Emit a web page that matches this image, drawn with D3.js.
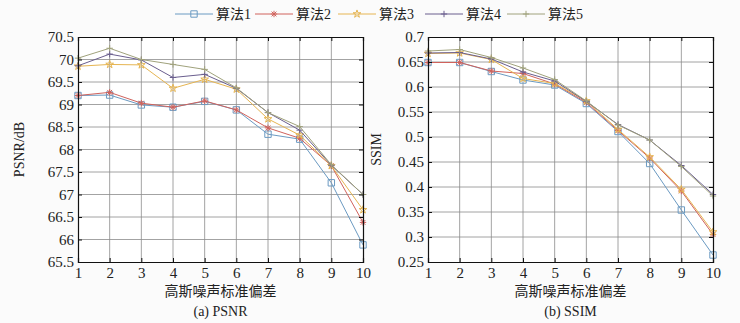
<!DOCTYPE html>
<html>
<head>
<meta charset="utf-8">
<script src="https://cdn.jsdelivr.net/npm/d3@7"></script>
<style>
  body { margin: 0; background: #fbfbfb; }
  svg text { font-family: "Liberation Serif", "Noto Sans CJK SC", serif; fill: #222; }
</style>
</head>
<body>
<div id="chart"></div>
<script>
// data
var noise = [1, 2, 3, 4, 5, 6, 7, 8, 9, 10];
var names = ["算法1", "算法2", "算法3", "算法4", "算法5"];

var psnr1 = [69.2, 69.21, 68.99, 68.94, 69.07, 68.88, 68.34, 68.23, 67.26, 65.88];
var psnr2 = [69.2, 69.27, 69.03, 68.94, 69.08, 68.88, 68.48, 68.25, 67.64, 66.38];
var psnr3 = [69.85, 69.89, 69.88, 69.36, 69.56, 69.34, 68.68, 68.32, 67.64, 66.66];
var psnr4 = [69.86, 70.12, 69.99, 69.6, 69.67, 69.36, 68.82, 68.43, 67.65, 67.0];
var psnr5 = [70.03, 70.25, 70.0, 69.89, 69.78, 69.37, 68.82, 68.51, 67.66, 67.0];

var ssim1 = [0.649, 0.649, 0.631, 0.614, 0.604, 0.567, 0.511, 0.447, 0.354, 0.264];
var ssim2 = [0.649, 0.649, 0.632, 0.627, 0.606, 0.569, 0.513, 0.458, 0.392, 0.305];
var ssim3 = [0.667, 0.668, 0.655, 0.617, 0.607, 0.572, 0.515, 0.46, 0.395, 0.31];
var ssim4 = [0.668, 0.669, 0.656, 0.63, 0.612, 0.571, 0.525, 0.494, 0.443, 0.385];
var ssim5 = [0.672, 0.675, 0.659, 0.638, 0.615, 0.572, 0.524, 0.494, 0.441, 0.382];

var psnrTicks = [65.5, 66, 66.5, 67, 67.5, 68, 68.5, 69, 69.5, 70, 70.5];
var ssimTicks = [0.25, 0.3, 0.35, 0.4, 0.45, 0.5, 0.55, 0.6, 0.65, 0.7];

var colors = ["#6b9ac2", "#d0625c", "#e6b552", "#6a5e8e", "#a0a27c"];
var markers = ["square", "asterisk", "star", "plus", "plus"];

var W = 740, H = 323;
var svg = d3.select("#chart").append("svg")
  .attr("width", W).attr("height", H);

function markerPath(type, s) {
  if (type == "square") return "M" + (-s) + "," + (-s) + "h" + 2 * s + "v" + 2 * s + "h" + (-2 * s) + "Z";
  if (type == "plus") return "M" + (-s) + ",0H" + s + "M0," + (-s) + "V" + s;
  if (type == "asterisk") {
    var d = s * 0.75;
    return "M" + (-s) + ",0H" + s + "M0," + (-s) + "V" + s +
      "M" + (-d) + "," + (-d) + "L" + d + "," + d + "M" + (-d) + "," + d + "L" + d + "," + (-d);
  }
  return d3.symbol(d3.symbolStar, s * s * 1.8)();
}

function drawPanel(opt) {
  var x = d3.scaleLinear().domain([1, 10]).range([opt.left, opt.right]);
  var y = d3.scaleLinear().domain(opt.domain).range([opt.bottom, opt.top]);
  var g = svg.append("g");

  g.append("rect")
    .attr("x", opt.left).attr("y", opt.top)
    .attr("width", opt.right - opt.left).attr("height", opt.bottom - opt.top)
    .attr("fill", "#fff");

  // grid
  g.append("g").selectAll("line").data(noise.slice(1, -1)).join("line")
    .attr("x1", d => x(d)).attr("x2", d => x(d))
    .attr("y1", opt.top).attr("y2", opt.bottom)
    .attr("stroke", "#8c8c8c").attr("stroke-width", 0.8);
  g.append("g").selectAll("line").data(opt.ticks.slice(1, -1)).join("line")
    .attr("y1", d => y(d)).attr("y2", d => y(d))
    .attr("x1", opt.left).attr("x2", opt.right)
    .attr("stroke", "#8c8c8c").attr("stroke-width", 0.8);

  // series
  opt.series.forEach(function (vals, i) {
    var pts = noise.map((n, k) => [x(n), y(vals[k])]);
    g.append("path")
      .attr("d", d3.line()(pts))
      .attr("fill", "none")
      .attr("stroke", colors[i])
      .attr("stroke-width", 1);
    g.append("g").selectAll("path").data(pts).join("path")
      .attr("transform", d => "translate(" + d[0] + "," + d[1] + ")")
      .attr("d", markerPath(markers[i], 3.2))
      .attr("fill", "none")
      .attr("stroke", colors[i])
      .attr("stroke-width", 1);
  });

  // axes
  var ax = g.append("g")
    .attr("transform", "translate(0," + opt.bottom + ")")
    .call(d3.axisBottom(x).tickValues(noise).tickSize(-4).tickPadding(5).tickFormat(d3.format("d")));
  var ay = g.append("g")
    .attr("transform", "translate(" + opt.left + ",0)")
    .call(d3.axisLeft(y).tickValues(opt.ticks).tickSize(-4).tickPadding(4).tickFormat(d => String(d)));
  var ayr = g.append("g")
    .attr("transform", "translate(" + opt.right + ",0)")
    .call(d3.axisRight(y).tickValues(opt.ticks).tickSize(-4).tickFormat(""));
  var axt = g.append("g")
    .attr("transform", "translate(0," + opt.top + ")")
    .call(d3.axisTop(x).tickValues(noise).tickSize(-4).tickFormat(""));
  [ax, ay, ayr, axt].forEach(function (a) {
    a.select(".domain").attr("stroke", "#111").attr("stroke-width", 1.2);
    a.selectAll(".tick line").attr("stroke", "#111");
    a.selectAll("text").style("font-size", "15px").attr("fill", "#222")
      .style("font-family", "'Liberation Serif', serif");
  });

  // labels
  g.append("text")
    .attr("transform", "translate(" + opt.ylabX + "," + ((opt.top + opt.bottom) / 2) + ") rotate(-90)")
    .attr("text-anchor", "middle")
    .style("font-size", "14px")
    .text(opt.ylabel);
  var cx = (opt.left + opt.right) / 2;
  g.append("text")
    .attr("x", cx).attr("y", 296)
    .attr("text-anchor", "middle")
    .style("font-size", "14px")
    .text("高斯噪声标准偏差");
  g.append("text")
    .attr("x", cx).attr("y", 316)
    .attr("text-anchor", "middle")
    .style("font-size", "14px")
    .text(opt.caption);
}

drawPanel({
  left: 78, right: 363, top: 37, bottom: 262,
  domain: [65.5, 70.5], ticks: psnrTicks,
  series: [psnr1, psnr2, psnr3, psnr4, psnr5],
  ylabel: "PSNR/dB", ylabX: 24, caption: "(a) PSNR"
});

drawPanel({
  left: 428, right: 713, top: 37, bottom: 262,
  domain: [0.25, 0.7], ticks: ssimTicks,
  series: [ssim1, ssim2, ssim3, ssim4, ssim5],
  ylabel: "SSIM", ylabX: 381, caption: "(b) SSIM"
});

// legend
var legX = [175, 255, 338, 425, 507];
var leg = svg.append("g").selectAll("g").data(names).join("g")
  .attr("transform", (d, i) => "translate(" + legX[i] + ",14)");
leg.append("line")
  .attr("x1", 0).attr("x2", 38)
  .attr("stroke", (d, i) => colors[i]);
leg.append("path")
  .attr("transform", "translate(19,0)")
  .attr("d", (d, i) => markerPath(markers[i], 3.2))
  .attr("fill", "none")
  .attr("stroke", (d, i) => colors[i]);
leg.append("text")
  .attr("x", 41).attr("y", 5)
  .style("font-size", "14px")
  .text(d => d);
</script>
</body>
</html>
